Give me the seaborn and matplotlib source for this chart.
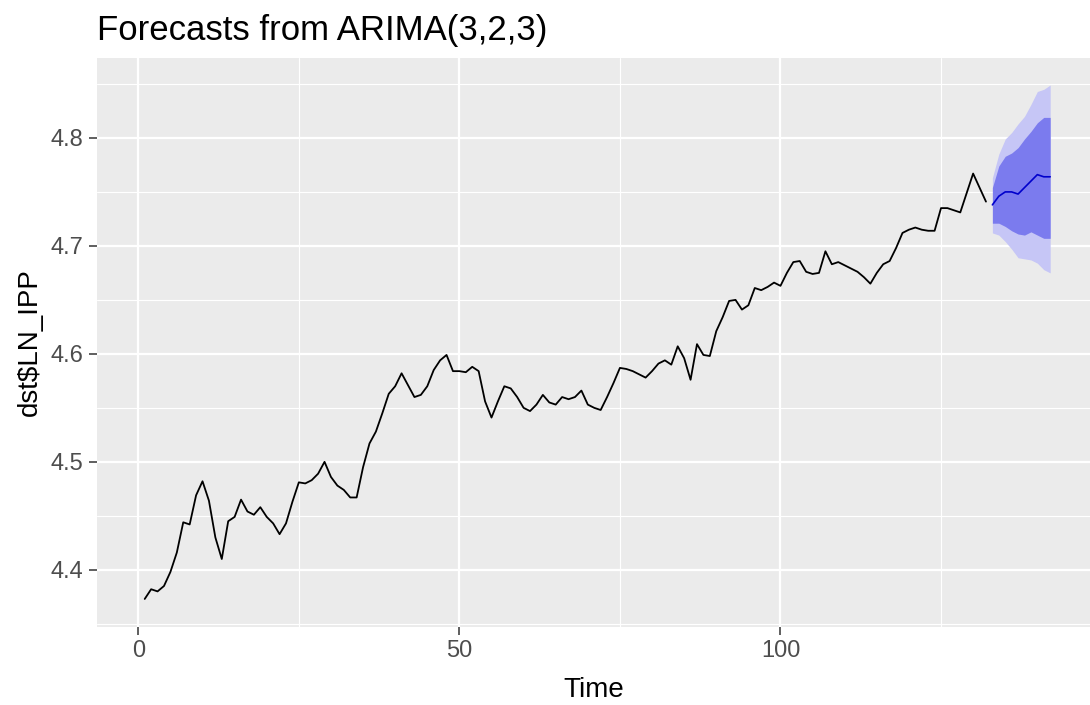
import numpy as np
import pandas as pd
import matplotlib
matplotlib.use("Agg")
import matplotlib.pyplot as plt
from matplotlib.ticker import FixedLocator
import seaborn as sns

# Observed series (log industrial production index), t = 1..132
ln_ipp = [
    4.373, 4.382, 4.380, 4.385, 4.398, 4.416, 4.444, 4.442, 4.469, 4.482,
    4.464, 4.430, 4.410, 4.445, 4.449, 4.465, 4.454, 4.451, 4.458, 4.449,
    4.443, 4.433, 4.443, 4.463, 4.481, 4.480, 4.483, 4.489, 4.500, 4.486,
    4.478, 4.474, 4.467, 4.467, 4.495, 4.517, 4.528, 4.545, 4.563, 4.570,
    4.582, 4.571, 4.560, 4.562, 4.570, 4.585, 4.594, 4.599, 4.584, 4.584,
    4.583, 4.588, 4.584, 4.556, 4.541, 4.556, 4.570, 4.568, 4.560, 4.550,
    4.547, 4.553, 4.562, 4.555, 4.553, 4.560, 4.558, 4.560, 4.566, 4.553,
    4.550, 4.548, 4.560, 4.573, 4.587, 4.586, 4.584, 4.581, 4.578, 4.584,
    4.591, 4.594, 4.590, 4.607, 4.596, 4.576, 4.609, 4.599, 4.598, 4.621,
    4.634, 4.649, 4.650, 4.641, 4.645, 4.661, 4.659, 4.662, 4.666, 4.663,
    4.675, 4.685, 4.686, 4.676, 4.674, 4.675, 4.695, 4.683, 4.685, 4.682,
    4.679, 4.676, 4.671, 4.665, 4.675, 4.683, 4.686, 4.698, 4.712, 4.715,
    4.717, 4.715, 4.714, 4.714, 4.735, 4.735, 4.733, 4.731, 4.749, 4.767,
    4.754, 4.741,
]
time_obs = list(range(1, len(ln_ipp) + 1))

# Forecast horizon t = 133..142: point forecast and prediction intervals
time_fc = list(range(133, 143))
fc_mean = [4.738, 4.746, 4.750, 4.750, 4.748, 4.754, 4.760, 4.766, 4.764, 4.764]
lo80 = [4.721, 4.721, 4.718, 4.714, 4.711, 4.710, 4.713, 4.710, 4.707, 4.707]
hi80 = [4.754, 4.774, 4.783, 4.786, 4.791, 4.799, 4.806, 4.814, 4.819, 4.819]
lo95 = [4.712, 4.710, 4.704, 4.697, 4.689, 4.688, 4.687, 4.684, 4.678, 4.675]
hi95 = [4.763, 4.785, 4.799, 4.805, 4.813, 4.820, 4.831, 4.843, 4.845, 4.849]

x_ticks = [0, 50, 100]
y_ticks = [4.4, 4.5, 4.6, 4.7, 4.8]

obs = pd.DataFrame({"Time": time_obs, "value": ln_ipp})
fc = pd.DataFrame({"Time": time_fc, "mean": fc_mean,
                   "lo80": lo80, "hi80": hi80, "lo95": lo95, "hi95": hi95})

sns.set_theme(style="darkgrid", rc={
    "axes.facecolor": "#EBEBEB",
    "grid.color": "white",
    "axes.edgecolor": "#EBEBEB",
    "xtick.bottom": True,
    "ytick.left": True,
    "xtick.color": "#333333",
    "ytick.color": "#333333",
})
plt.rcParams["font.family"] = ["Liberation Sans", "DejaVu Sans"]

fig = plt.figure(figsize=(10.9, 7.05), dpi=100)
ax = fig.add_axes([0.0887, 0.1106, 1.0 - 0.0887, 0.9177 - 0.1106])

# Prediction interval bands (95% under 80%)
ax.fill_between(fc["Time"], fc["lo95"], fc["hi95"], color="#C6C6F6", lw=0, zorder=2)
ax.fill_between(fc["Time"], fc["lo80"], fc["hi80"], color="#7B7BEE", lw=0, zorder=3)

sns.lineplot(data=obs, x="Time", y="value", color="black", linewidth=1.3, ax=ax, zorder=4)
sns.lineplot(data=fc, x="Time", y="mean", color="#0000CC", linewidth=1.2, ax=ax, zorder=5)

ax.set_xlim(-6.48, 148.2)
ax.set_ylim(4.347, 4.874)

ax.xaxis.set_major_locator(FixedLocator(x_ticks))
ax.yaxis.set_major_locator(FixedLocator(y_ticks))
ax.xaxis.set_minor_locator(FixedLocator([25, 75, 125]))
ax.yaxis.set_minor_locator(FixedLocator([4.35, 4.45, 4.55, 4.65, 4.75, 4.85]))
ax.set_xticklabels([str(v) for v in x_ticks])
ax.set_yticklabels([f"{v:.1f}" for v in y_ticks])

ax.grid(which="major", color="white", linewidth=1.6)
ax.grid(which="minor", color="white", linewidth=0.8)
ax.set_axisbelow(True)

ax.tick_params(axis="both", which="major", length=5.5, width=1.1, color="#333333",
               labelsize=17, labelcolor="#4D4D4D", pad=4)
ax.tick_params(axis="both", which="minor", length=0)

for s in ax.spines.values():
    s.set_visible(False)

ax.set_xlabel("Time", fontsize=20, color="black", labelpad=11)
ax.set_ylabel("dst$LN_IPP", fontsize=20, color="black")
ax.yaxis.set_label_coords(-0.054, 0.5)

fig.text(0.0887, 0.943, "Forecasts from ARIMA(3,2,3)", fontsize=25,
         color="black", ha="left", va="baseline")

fig.savefig("out.png", dpi=100, facecolor="white")
